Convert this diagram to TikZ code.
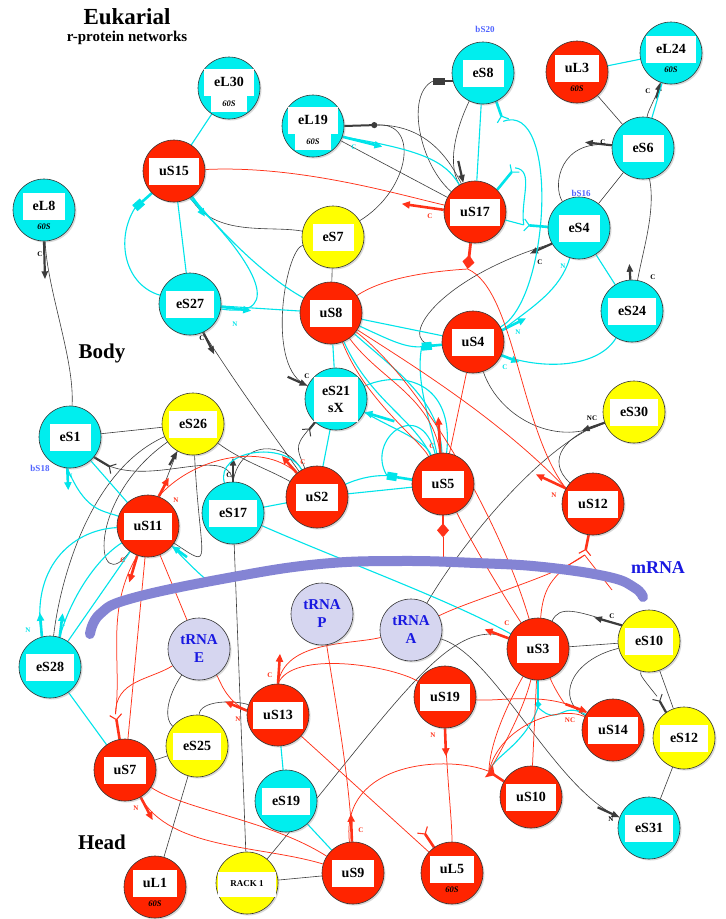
\documentclass[tikz,border=0pt]{standalone}
\usepackage{fontspec}
\setmainfont{Liberation Serif}
\usetikzlibrary{arrows.meta,calc,shadows}
\pgfdeclarelayer{bg}
\pgfdeclarelayer{edges}
\pgfsetlayers{bg,edges,main}
\definecolor{cyanN}{RGB}{0,238,238}
\definecolor{redN}{RGB}{255,36,0}
\definecolor{yelN}{RGB}{255,255,0}
\definecolor{lavN}{RGB}{214,214,240}
\definecolor{cyanE}{RGB}{0,228,234}
\definecolor{redE}{RGB}{255,50,25}
\definecolor{blkE}{RGB}{60,60,60}
\definecolor{bandC}{RGB}{132,132,212}
\definecolor{blueT}{RGB}{25,25,225}
\definecolor{blueS}{RGB}{80,100,255}
\tikzset{
 rp/.style={circle, minimum size=62pt, inner sep=0pt, draw=black!80, line width=0.6pt, drop shadow={opacity=0.3,shadow xshift=1.5pt,shadow yshift=-1.5pt}},
 lb/.style={fill=white, inner xsep=10pt, inner ysep=0pt, minimum height=27pt, font=\bfseries\fontsize{14}{17}\selectfont, align=center},
 sx/.style={font=\bfseries\itshape\fontsize{8.5}{9}\selectfont, inner sep=0pt},
 trn/.style={rp, fill=lavN, text=blueT, font=\bfseries\fontsize{15}{18}\selectfont, align=center},
 bk/.style={draw=blkE, line width=0.6pt},
 cy/.style={draw=cyanE, line width=1.1pt},
 rd/.style={draw=redE, line width=0.75pt},
 bkarr/.style={draw=blkE, line width=2.2pt, -{Triangle[length=8pt,width=6pt]}},
 cyarr/.style={draw=cyanE, line width=2.6pt, -{Triangle[length=8pt,width=7pt]}},
 rdarr/.style={draw=redE, line width=2.6pt, -{Triangle[length=8pt,width=7pt]}},
 bkfork/.style={draw=blkE, line width=2.2pt, -{Straight Barb[reversed,length=5pt,width=11pt,line width=1pt]}},
 cyfork/.style={draw=cyanE, line width=2.6pt, -{Straight Barb[reversed,length=5pt,width=12pt,line width=1.1pt]}},
 rdfork/.style={draw=redE, line width=2.6pt, -{Straight Barb[reversed,length=5pt,width=12pt,line width=1.1pt]}},
 cyrect/.style={draw=cyanE, line width=2.6pt, -{Rectangle[length=10pt,width=8pt]}},
 bkrect/.style={draw=blkE, line width=2.2pt, -{Rectangle[length=12pt,width=7pt]}},
 rddia/.style={draw=redE, line width=2.8pt, -{Diamond[length=14pt,width=12pt]}},
 rdtee/.style={draw=redE, line width=2.6pt, -{Triangle[reversed,length=7pt,width=14pt]}},
 cyball/.style={draw=cyanE, line width=2.6pt, -{Circle[length=6pt]}},
 bkball/.style={draw=blkE, line width=2pt, -{Circle[length=6pt]}},
 el/.style={font=\bfseries\fontsize{7}{7}\selectfont, inner sep=0pt},
 bl/.style={font=\bfseries\fontsize{9}{9}\selectfont, text=blueS, inner sep=0pt},
}
\newcommand\prot[5]{\node[rp, fill=#4] (#1) at (#2,#3) {};\node[lb] (#1-t) at (#2,#3) {#5};}
\newcommand\protL[4]{\node[rp, fill=#4] (#1) at (#2,#3) {};\node[lb] (#1-t) at (#2,#3-4) {#1};\node[sx] (#1-s) at (#2,#3+17) {60S};}
\newcommand\protW[4]{\node[rp, fill=#4] (#1) at (#2,#3) {};\node[fill=white, minimum width=36pt, minimum height=18pt, inner sep=0pt] (#1-w) at (#2,#3+15) {};\node[lb] (#1-t) at (#2,#3-6) {#1};\node[sx] (#1-s) at (#2,#3+16) {60S};}
\begin{document}
\begin{tikzpicture}[x=1pt,y=-1pt]
\useasboundingbox (0,0) rectangle (726,919);
\begin{pgfonlayer}{bg}
\fill[white] (0,0) rectangle (726,919);
\end{pgfonlayer}
% titles
\node[font=\bfseries\fontsize{23}{25}\selectfont] (title) at (127,17) {Eukarial};
\node[font=\bfseries\fontsize{15}{17}\selectfont] (subtitle) at (127,38) {r-protein networks};
\node[font=\bfseries\fontsize{21}{23}\selectfont] (body) at (102,353) {Body};
\node[font=\bfseries\fontsize{21}{23}\selectfont] (head) at (102,842) {Head};
\node[font=\bfseries\fontsize{18}{20}\selectfont, text=blueT] (mrna) at (658,568) {mRNA};
\node[bl] (bS20) at (485,29) {bS20};
\node[bl] (bS16) at (581,193) {bS16};
\node[bl] (bS18) at (40,468) {bS18};
% nodes
\protW{eL30}{229}{88}{cyanN}
\protW{eL19}{313}{126}{cyanN}
\prot{eS8}{483}{73}{cyanN}{eS8}
\protL{uL3}{577}{72}{redN}
\protL{eL24}{671}{53}{cyanN}
\prot{eS6}{643}{148}{cyanN}{eS6}
\protL{eL8}{44}{210}{cyanN}
\prot{uS15}{174}{171}{redN}{uS15}
\prot{uS17}{475}{212}{redN}{uS17}
\prot{eS7}{333}{237}{yelN}{eS7}
\prot{eS4}{579}{228}{cyanN}{eS4}
\prot{eS27}{190}{304}{cyanN}{eS27}
\prot{uS8}{331}{313}{redN}{uS8}
\prot{uS4}{473}{342}{redN}{uS4}
\prot{eS24}{632}{311}{cyanN}{eS24}
\node[rp, fill=cyanN] (eS21) at (336,399) {};
\node[lb, inner xsep=8pt, minimum height=45pt] (eS21-t) at (336,399) {eS21\\sX};
\prot{eS30}{634}{412}{yelN}{eS30}
\prot{eS1}{70}{437}{cyanN}{eS1}
\prot{eS26}{193}{424}{yelN}{eS26}
\prot{uS2}{317}{497}{redN}{uS2}
\prot{uS5}{443}{484}{redN}{uS5}
\prot{uS12}{593}{504}{redN}{uS12}
\prot{uS11}{148}{526}{redN}{uS11}
\prot{eS17}{233}{513}{cyanN}{eS17}
\node[trn] (tRNAP) at (322,614) {tRNA\\P};
\node[trn] (tRNAA) at (411,630) {tRNA\\A};
\node[trn] (tRNAE) at (199,649) {tRNA\\E};
\prot{eS28}{50}{667}{cyanN}{eS28}
\prot{uS3}{538}{649}{redN}{uS3}
\prot{eS10}{649}{641}{yelN}{eS10}
\prot{uS13}{278}{715}{redN}{uS13}
\prot{uS19}{445}{697}{redN}{uS19}
\prot{uS14}{613}{730}{redN}{uS14}
\prot{eS12}{684}{738}{yelN}{eS12}
\prot{uS7}{125}{770}{redN}{uS7}
\prot{eS25}{197}{746}{yelN}{eS25}
\prot{eS19}{286}{801}{cyanN}{eS19}
\prot{uS10}{531}{797}{redN}{uS10}
\prot{eS31}{649}{828}{cyanN}{eS31}
\protL{uL1}{155}{887}{redN}
\node[rp, fill=yelN] (RACK1) at (247,883) {};
\node[lb, font=\bfseries\fontsize{9}{11}\selectfont, minimum height=25pt, inner xsep=12pt] (RACK1-t) at (247,884) {RACK 1};
\prot{uS9}{353}{873}{redN}{uS9}
\protL{uL5}{452}{873}{redN}
\coordinate (c11) at (213,585);
\coordinate (c5) at (443,562);
\coordinate (c12) at (612,590);
% edge labels
\node[el] (l1) at (40,254) {C};
\node[el, text=cyanE] (l2) at (354,147) {C};
\node[el, text=redE] (l3) at (430,216) {C};
\node[el] (l4) at (648,91) {C};
\node[el] (l5) at (603,142) {C};
\node[el] (l6) at (540,262) {C};
\node[el] (l7) at (653,277) {C};
\node[el, text=cyanE] (l8) at (563,266) {N};
\node[el, text=cyanE] (l9) at (518,332) {N};
\node[el, text=cyanE] (l10) at (505,367) {C};
\node[el, text=cyanE] (l11) at (235,324) {N};
\node[el] (l12) at (202,338) {C};
\node[el] (l13) at (307,376) {C};
\node[el, text=redE] (l14) at (432,446) {C};
\node[el, text=redE] (l15) at (303,462) {C};
\node[el] (l16) at (592,418) {NC};
\node[el, text=redE] (l17) at (554,495) {N};
\node[el, text=cyanE] (l18) at (70,476) {N};
\node[el, text=redE] (l19) at (176,500) {N};
\node[el, text=redE] (l20) at (123,560) {C};
\node[el] (l21) at (229,475) {C};
\node[el, text=cyanE] (l22) at (28,630) {N};
\node[el, text=cyanE] (l23) at (63,624) {C};
\node[el, text=redE] (l24) at (270,675) {C};
\node[el, text=redE] (l25) at (238,719) {N};
\node[el, text=redE] (l26) at (136,808) {N};
\node[el, text=redE] (l27) at (361,830) {C};
\node[el, text=redE] (l28) at (433,735) {N};
\node[el, text=redE] (l29) at (507,623) {C};
\node[el] (l30) at (612,616) {C};
\node[el, text=redE] (l31) at (570,720) {NC};
\node[el] (l32) at (611,819) {N};
\begin{pgfonlayer}{edges}
% ---------- black edges
\draw[bk] (eL8) .. controls (47,290) and (75,360) .. (eS1);
\draw[bkarr] (eL8.270) -- ++(1,38);
\draw[bk] (eL19) -- (uS17);
\draw[bkball] (eL19.east) -- ++(33,-1) coordinate (d19);
\draw[bk] (d19) .. controls (420,122) and (410,190) .. (eS7);
\draw[bk] (d19) .. controls (420,125) and (445,150) .. (uS17);
\draw[bkrect] (eS8.195) -- ++(-20,0) coordinate (m8);
\draw[bk] (m8) .. controls (405,95) and (420,165) .. (uS17);
\draw[bkarr] ($(uS17.112)+(-5,-22)$) -- (uS17.112);
\draw[bk] (eS8) .. controls (460,120) and (445,160) .. (uS17);
\draw[bk] (uL3) -- (eS6);
\draw[bk] (eS6) .. controls (648,110) and (655,100) .. (eL24);
\draw[bkarr] ($(eL24.250)+(-4,16)$) -- (eL24.250);
\draw[bkarr] (eS6.175) -- ++(-27,-3);
\draw[bk] (eS6.175) .. controls (560,138) and (552,185) .. (eS4);
\draw[bk] (eS6) -- (eS4);
\draw[bk] (eS6) .. controls (656,210) and (643,250) .. (eS24);
\draw[bkarr] (eS24.93) -- ++(-1,-16);
\draw[bkarr] (eS4.210) -- ++(-22,10);
\draw[bk] (eS4.210) .. controls (430,280) and (390,350) .. (uS4);
\draw[bk] (eS7) -- (uS8);
\draw[bk] (uS15) .. controls (215,238) and (270,225) .. (eS7);
\draw[bk] (eS7) .. controls (285,250) and (265,370) .. (eS21.155);
\draw[bkarr] ($(eS21.155)+(-20,-9)$) -- (eS21.155);
\draw[bkarr] (eS27.295) -- ++(11,22);
\draw[bk] (eS27.295) .. controls (240,390) and (270,430) .. (uS2);
\draw[bkfork] (eS21.228) -- ++(-9,11);
\draw[bk] (eS21.228) .. controls (295,445) .. (uS2);
\draw[bk] (eS1) -- (eS26);
\draw[bkfork] (eS1.320) -- ++(20,12);
\draw[bk] (eS1.320) .. controls (140,495) and (228,440) .. (eS17.90);
\draw[bkarr] (eS17.90) -- ++(0,-24);
\draw[bk] (eS17.90) .. controls (240,440) and (285,440) .. (uS2);
\draw[bk] (uS11) -- (eS26.240);
\draw[bkarr] ($(eS26.240)+(-8,14)$) -- (eS26.240);
\draw[bk] (eS26) .. controls (90,470) and (60,580) .. (eS28);
\draw[bk] (eS26) .. controls (85,500) and (95,600) .. (uS11);
\draw[bk] (eS26) .. controls (240,460) and (270,470) .. (uS2);
\draw[bk] (eS26) .. controls (200,565) and (215,570) .. (uS11);
\draw[bk] (eS17) -- (RACK1);
\draw[bk] (tRNAE) .. controls (165,700) and (165,720) .. (eS25);
\draw[bk] (eS25) -- (uS7);
\draw[bk] (eS25) -- (uL1);
\draw[bk] (eS25) .. controls (200,700) and (235,700) .. (uS13);
\draw[bk] (RACK1) -- (uS9);
\draw[bk] (RACK1) .. controls (400,700) and (450,615) .. (uS3);
\draw[bk] (tRNAA) .. controls (470,530) and (550,440) .. (eS30.200);
\draw[bk] (uS4) .. controls (500,420) and (560,448) .. (eS30.200);
\draw[bk] (uS12) .. controls (545,460) and (565,435) .. (eS30.200);
\draw[bkarr] (eS30.200) -- ++(-23,8);
\draw[bk] (tRNAA) .. controls (495,655) and (555,790) .. (eS31.160);
\draw[bkarr] ($(eS31.160)+(-22,-10)$) -- (eS31.160);
\draw[bk] (uS3) -- (eS10);
\draw[bk] (eS10.150) .. controls (575,610) and (560,605) .. (uS3);
\draw[bkarr] (eS10.150) -- ++(-28,-8);
\draw[bk] (eS10) -- (eS12);
\draw[bkfork] (eS12.125) -- ++(-9,-16) coordinate (f12b);
\draw[bk] (f12b) .. controls (640,675) .. (eS10);
\draw[bk] (eS10) .. controls (570,660) and (555,700) .. (uS14);
\draw[bk] (eS12) -- (eS31);
% ---------- cyan edges
\draw[cy] (eL30) -- (uS15);
\draw[cy] (uS15) -- (eS27);
\draw[cyrect] (uS15.225) -- ++(-17,15) coordinate (r15);
\draw[cy] (r15) .. controls (115,240) and (125,285) .. (eS27);
\draw[cyarr] (uS15.305) -- ++(13,20);
\draw[cy] (uS15.305) .. controls (240,255) and (280,285) .. (uS8);
\draw[cy] (uS15.300) .. controls (250,255) and (290,320) .. (eS27);
\draw[cyarr] (eS27.355) -- ++(30,4);
\draw[cy] (eS27) -- (uS8);
\draw[cy] (uS8) -- (eS21);
\draw[cy] (uS8) -- (uS4);
\draw[cyrect] (uS4.185) -- ++(-20,2) coordinate (r4);
\draw[cy] (uS8) .. controls (390,340) and (405,348) .. (r4);
\draw[cy] (r4) .. controls (415,380) and (430,420) .. (uS5);
\draw[cy] (uS8) .. controls (370,400) and (415,420) .. (uS5);
\draw[cy] (uS8) .. controls (395,370) and (440,400) .. (uS5);
\draw[cyarr] ($(eS21.335)+(30,9)$) -- (eS21.335);
\draw[cy] (uS5) .. controls (425,440) and (395,430) .. (eS21.335);
\draw[cy] (eS21) .. controls (400,370) and (455,380) .. (uS5);
\draw[cy] (eS21) -- (uS2);
\draw[cy] (uS2) -- (uS5);
\draw[cyrect] (uS5.172) -- ++(-25,-4) coordinate (r5);
\draw[cy] (uS2) .. controls (355,480) and (370,475) .. (r5);
\draw[cy] (r5) .. controls (365,440) and (420,395) .. (uS5);
\draw[cy] (eS17) -- (uS2);
\draw[cy] (eS17) .. controls (340,560) and (450,600) .. (uS3);
\draw[cy] (eS17) .. controls (215,450) and (285,440) .. (uS2);
\draw[cy] (eS1) -- (uS11);
\draw[cyarr] (eS1.265) -- ++(1,22);
\draw[cy] (eS1.265) .. controls (85,510) and (100,510) .. (uS11);
\draw[cyarr] (eS28.105) -- ++(-2,-24);
\draw[cy] (uS11) .. controls (70,530) and (30,570) .. (eS28.105);
\draw[cyarr] (eS28.72) -- ++(3,-24);
\draw[cy] (uS11) .. controls (95,560) and (70,600) .. (eS28.72);
\draw[cy] (uS11) -- (eS28);
\draw[cy] (eS28) -- (uS7);
\draw[cyarr] ($(uS11.320)+(15,11)$) -- (uS11.320);
\draw[cy] (uS11.320) .. controls (190,565) and (200,575) .. (c11);
\draw[cy] (eS19) -- (uS13);
\draw[cy] (eS19) -- (uS9);
\draw[rdtee] (uS10.150) -- ++(-15,-10) coordinate (t10);
\draw[cyball] (uS3.270) -- ++(0,27) coordinate (b3);
\draw[cy] (b3) .. controls (560,728) and (560,700) .. (uS14);
\draw[cy] (b3) .. controls (525,745) and (495,755) .. (t10);
\draw[cyarr] (uS4.335) -- ++(18,7);
\draw[cy] (uS4.335) .. controls (550,372) and (600,365) .. (eS24);
\draw[cyarr] (uS4.22) -- ++(24,-12);
\draw[cy] (uS4.22) .. controls (535,305) and (560,290) .. (eS4);
\draw[cy] (eS4) -- (eS24);
\draw[cy] (eL24) -- (eS6);
\draw[cy] (uL3) -- (eL24);
\draw[cyarr] (eL19.340) -- ++(40,10);
\draw[cy] (eL19.340) .. controls (420,150) and (445,160) .. (uS17);
\draw[cy] (uS17) -- (eS8);
\draw[cyfork] (eS4.178) -- ++(-24,-2) coordinate (f4);
\draw[cy] (uS17) -- (f4);
\draw[cyfork] (uS17.45) -- ++(18,-22) coordinate (f17);
\draw[cy] (f17) .. controls (535,170) and (520,200) .. (f4);
\draw[cyfork] (eS8.295) -- ++(7,20) coordinate (f8);
\draw[cy] (f8) .. controls (560,100) and (550,300) .. (uS4);
% ---------- red edges
\draw[rd] (uS15) .. controls (300,165) and (400,195) .. (uS17);
\draw[rdarr] (uS17.176) -- ++(-42,-6);
\draw[rddia] (uS17.262) -- ++(-3,26) coordinate (d17);
\draw[rd] (d17) .. controls (420,272) and (380,280) .. (uS8);
\draw[rd] (d17) .. controls (515,290) and (520,430) .. (uS12.150);
\draw[rd] (uS8) .. controls (420,370) and (500,420) .. (uS12.150);
\draw[rdarr] (uS12.150) -- ++(-30,-14);
\draw[rd] (uS8) .. controls (380,380) and (430,395) .. (uS5.95);
\draw[rd] (uS8) .. controls (365,400) and (420,440) .. (uS5);
\draw[rdarr] (uS5.95) -- ++(-2,-36);
\draw[rd] (uS8) .. controls (420,380) and (500,520) .. (uS3);
\draw[rd] (uS5) -- (uS4);
\draw[rddia] (uS5.270) -- ++(0,22) coordinate (d5);
\draw[rd] (d5) -- (c5);
\draw[rd] (uS5) .. controls (470,540) and (500,590) .. (uS3);
\draw[rdfork] (uS12.262) -- ++(-4,20) coordinate (f12);
\draw[rd] (f12) .. controls (560,575) and (470,600) .. (tRNAA);
\draw[rd] (f12) .. controls (550,575) and (543,590) .. (uS3);
\draw[rd] (f12) -- (c12);
\draw[rdarr] (uS11.70) -- ++(10,-19);
\draw[rdarr] (uS2.130) -- ++(-15,-17);
\draw[rd] (uS11.70) .. controls (190,460) and (260,440) .. (uS2.130);
\draw[rd] (uS11) -- (uS7);
\draw[rd] (uS11) -- (tRNAE);
\draw[rdfork] (uS7.100) -- ++(-4,-25) coordinate (f7);
\draw[rdarr] (uS11.250) -- ++(-8,27);
\draw[rd] (uS11.250) .. controls (105,610) and (122,660) .. (f7);
\draw[rd] (tRNAE) .. controls (150,680) and (115,680) .. (f7);
\draw[rdarr] (uS7.300) -- ++(12,23);
\draw[rd] (uS7.300) .. controls (170,850) and (260,845) .. (uS9);
\draw[rd] (uS7) .. controls (185,810) and (270,820) .. (uS9);
\draw[rdarr] (uS13.90) -- ++(2,-30);
\draw[rd] (uS13.90) .. controls (285,640) and (350,645) .. (tRNAA);
\draw[rd] (uS13.90) .. controls (292,650) and (390,665) .. (uS19);
\draw[rd] (tRNAP) .. controls (335,700) and (350,780) .. (uS9);
\draw[rdarr] (uS9.92) -- ++(-1,-28);
\draw[rd] (uS9) .. controls (340,760) and (450,755) .. (t10);
\draw[rd] (uS13) -- (uL5);
\draw[rdfork] (uL5.125) -- ++(-12,-18);
\draw[rdarr] (uS19.270) -- ++(1,28);
\draw[rd] (uS19.270) .. controls (448,790) and (452,820) .. (uL5);
\draw[rd] (uS19) .. controls (500,702) and (550,690) .. (uS14);
\draw[rd] (uS3) .. controls (555,690) and (565,705) .. ($(uS14.145)+(-22,-8)$);
\draw[rdarr] ($(uS14.145)+(-22,-8)$) -- (uS14.145);
\draw[rd] (uS3) -- (uS10);
\draw[rd] (uS3) .. controls (510,700) and (490,740) .. (t10);
\draw[rd] (uS3) .. controls (525,705) and (505,745) .. (t10);
\draw[rd] (uS14) .. controls (560,705) and (500,725) .. (t10);
\draw[rdarr] (uS3.160) -- ++(-24,-9);
\draw[rdarr] (uS13.172) -- ++(-22,-9);
\draw[rd] (uS13.172) .. controls (225,700) and (220,680) .. (tRNAE);
% ---------- mRNA band
\draw[bandC, line width=10pt, line cap=round] plot[smooth, tension=0.7] coordinates {(90,634) (100,614) (133,598) (233,577) (320,564) (400,561) (476,563) (543,567) (609,577) (635,588) (643,597)};
\end{pgfonlayer}
\end{tikzpicture}
\end{document}
